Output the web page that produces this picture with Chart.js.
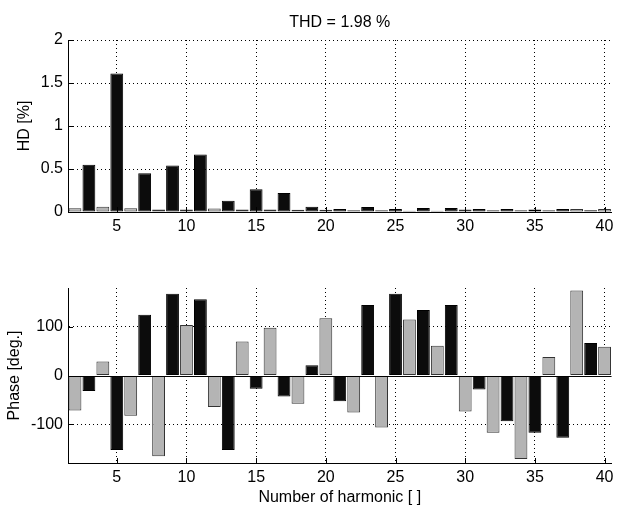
<!DOCTYPE html>
<html>
<head>
<meta charset="utf-8">
<script src="https://cdn.jsdelivr.net/npm/chart.js@4.4.1/dist/chart.umd.min.js"></script>
<style>
  body { margin: 0; background: #fff; }
  canvas { position: absolute; left: 0; }
  #hdChart { top: 0; }
  #phaseChart { top: 250px; }
</style>
</head>
<body>
<canvas id="hdChart" width="618" height="240"></canvas>
<canvas id="phaseChart" width="618" height="261"></canvas>
<script>
// harmonic orders 2..40
const harmonics = [2, 3, 4, 5, 6, 7, 8, 9, 10, 11, 12, 13, 14, 15, 16, 17, 18, 19, 20, 21,
  22, 23, 24, 25, 26, 27, 28, 29, 30, 31, 32, 33, 34, 35, 36, 37, 38, 39, 40];

// harmonic distortion per order [%]
const hdValues = [0.043, 0.55, 0.06, 1.61, 0.045, 0.45, 0.03, 0.54, 0.03, 0.67,
  0.04, 0.13, 0.03, 0.265, 0.03, 0.22, 0.025, 0.06, 0.027, 0.035,
  0.02, 0.058, 0.02, 0.035, 0.015, 0.047, 0.015, 0.047, 0.03, 0.035,
  0.02, 0.035, 0.02, 0.03, 0.02, 0.035, 0.035, 0.02, 0.035];

// phase per order [deg.]
const phaseValues = [-72, -32, 29, -153, -83, 125, -166, 168, 104, 157,
  -65, -153, 70, -27, 98, -43, -58, 21, 118, -53,
  -76, 145, -107, 168, 115, 135, 61, 145, -74, -29,
  -118, -94, -172, -118, 38, -128, 175, 67, 59];

const xTicks = [5, 10, 15, 20, 25, 30, 35, 40];
const hdTicks = [0, 0.5, 1, 1.5, 2];
const phaseTicks = [-100, 0, 100];
const thdText = 'THD = 1.98 %';

Chart.defaults.font.family = "'Liberation Sans', Arial, sans-serif";
Chart.defaults.font.size = 16;
Chart.defaults.color = '#000';
Chart.defaults.animation = false;

const oddFill = '#0c0c0c';
const evenFill = '#b4b4b4';
const barColor = ctx => harmonics[ctx.dataIndex] % 2 ? oddFill : evenFill;
const barEdge = ctx => harmonics[ctx.dataIndex] % 2 ? '#000' : '#333';

// small tick marks pointing into the axes, like the usual matlab look
const innerTicks = {
  id: 'innerTicks',
  afterDraw(chart) {
    const { ctx, chartArea, scales: { x, y } } = chart;
    ctx.save();
    ctx.strokeStyle = '#000';
    ctx.lineWidth = 1;
    ctx.beginPath();
    x.ticks.forEach(t => {
      const px = Math.round(x.getPixelForValue(t.value)) + 0.5;
      ctx.moveTo(px, chartArea.bottom);
      ctx.lineTo(px, chartArea.bottom - 5);
    });
    y.ticks.forEach(t => {
      const py = Math.round(y.getPixelForValue(t.value)) + 0.5;
      ctx.moveTo(chartArea.left, py);
      ctx.lineTo(chartArea.left + 5, py);
    });
    ctx.stroke();
    ctx.restore();
  }
};

// solid baseline at zero for the phase bars
const zeroLine = {
  id: 'zeroLine',
  afterDatasetsDraw(chart) {
    const { ctx, chartArea, scales: { y } } = chart;
    const py = Math.round(y.getPixelForValue(0)) + 0.5;
    ctx.save();
    ctx.strokeStyle = '#000';
    ctx.lineWidth = 1;
    ctx.beginPath();
    ctx.moveTo(chartArea.left, py);
    ctx.lineTo(chartArea.right, py);
    ctx.stroke();
    ctx.restore();
  }
};

function xAxis(height, showTitle) {
  return {
    type: 'linear',
    min: 1.5,
    max: 40.5,
    offset: false,
    afterBuildTicks: s => { s.ticks = xTicks.map(v => ({ value: v })); },
    afterFit: s => { s.height = height; },
    grid: { color: '#000', drawTicks: false, offset: false },
    border: { color: '#000', width: 1, dash: [1, 3] },
    ticks: { padding: 4.5, autoSkip: false, maxRotation: 0 },
    title: {
      display: showTitle,
      text: 'Number of harmonic [ ]',
      padding: { top: 0, bottom: 4 }
    }
  };
}

function yAxis(min, max, tickValues, label, titlePad) {
  return {
    min: min,
    max: max,
    afterBuildTicks: s => { s.ticks = tickValues.map(v => ({ value: v })); },
    afterFit: s => { s.width = 68; },
    grid: { color: ctx => ctx.tick && ctx.tick.value === 0 ? 'rgba(0,0,0,0)' : '#000', drawTicks: false },
    border: { color: '#000', width: 1, dash: [1, 3] },
    ticks: { padding: 5, callback: v => String(v) },
    title: { display: true, text: label, padding: { top: titlePad, bottom: 0 } }
  };
}

function barDataset(values) {
  return {
    data: values,
    backgroundColor: barColor,
    borderColor: barEdge,
    borderWidth: 1,
    borderSkipped: false,
    barPercentage: 0.92,
    categoryPercentage: 1
  };
}

new Chart(document.getElementById('hdChart'), {
  type: 'bar',
  data: { labels: harmonics, datasets: [barDataset(hdValues)] },
  options: {
    responsive: false,
    layout: { padding: { left: 0, right: 2, top: 0, bottom: 0 } },
    scales: {
      x: xAxis(28, false),
      y: yAxis(0, 2, hdTicks, 'HD [%]', 15)
    },
    plugins: {
      legend: { display: false },
      tooltip: { enabled: false },
      title: {
        display: true,
        text: thdText,
        fullSize: false,
        font: { size: 16, weight: 'normal' },
        padding: { top: 13.4, bottom: 7.4 }
      }
    }
  },
  plugins: [innerTicks]
});

new Chart(document.getElementById('phaseChart'), {
  type: 'bar',
  data: { labels: harmonics, datasets: [barDataset(phaseValues)] },
  options: {
    responsive: false,
    layout: { padding: { left: 0, right: 2, top: 38, bottom: 0 } },
    scales: {
      x: xAxis(48, true),
      y: yAxis(-180, 180, phaseTicks, 'Phase [deg.]', 5.4)
    },
    plugins: {
      legend: { display: false },
      tooltip: { enabled: false }
    }
  },
  plugins: [innerTicks, zeroLine]
});
</script>
</body>
</html>
